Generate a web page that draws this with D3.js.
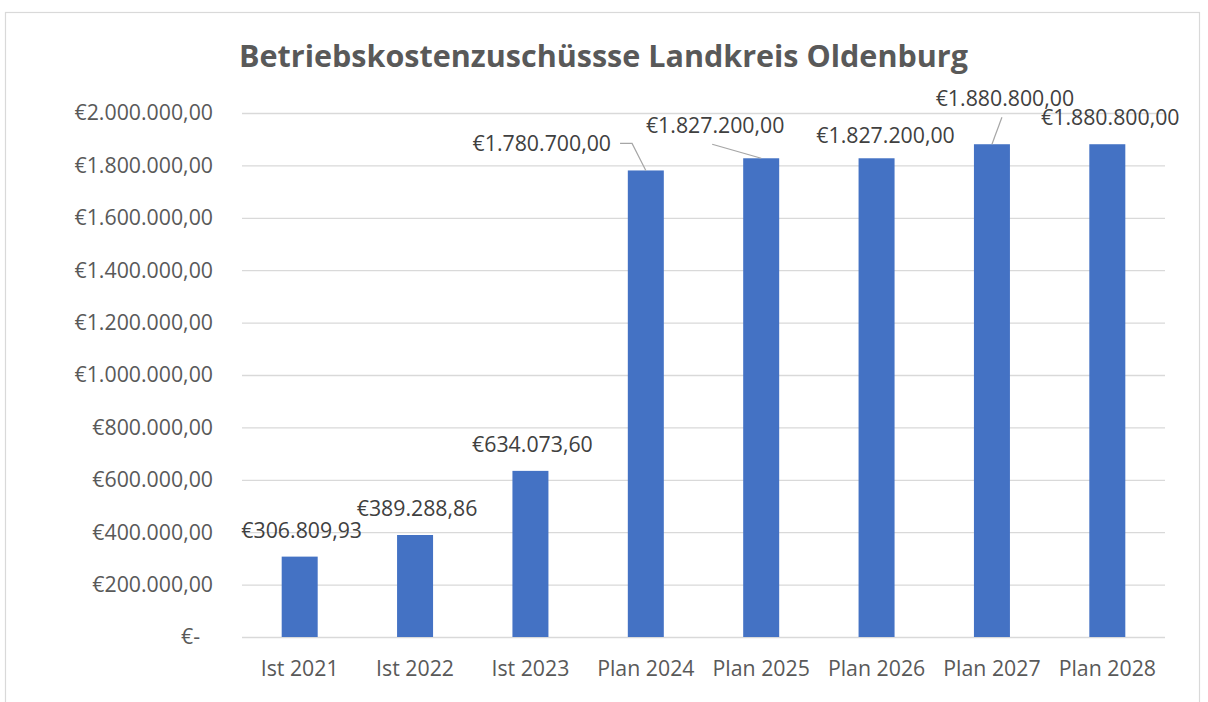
<!DOCTYPE html>
<html>
<head>
<meta charset="utf-8">
<script src="https://cdn.jsdelivr.net/npm/d3@7"></script>
<style>
  html, body { margin: 0; padding: 0; background: #fff; }
  svg { display: block; }
  text { font-family: "Open Sans", "Noto Sans", sans-serif; }
</style>
</head>
<body>
<svg id="chart" width="1208" height="702"></svg>
<script>
// ---- data ----
const title = "Betriebskostenzuschüssse Landkreis Oldenburg";
const categories = ["Ist 2021", "Ist 2022", "Ist 2023", "Plan 2024", "Plan 2025", "Plan 2026", "Plan 2027", "Plan 2028"];
const values = [306809.93, 389288.86, 634073.60, 1780700.00, 1827200.00, 1827200.00, 1880800.00, 1880800.00];
const yTickValues = [0, 200000, 400000, 600000, 800000, 1000000, 1200000, 1400000, 1600000, 1800000, 2000000];
const yTickLabels = ["€-", "€200.000,00", "€400.000,00", "€600.000,00", "€800.000,00", "€1.000.000,00",
                     "€1.200.000,00", "€1.400.000,00", "€1.600.000,00", "€1.800.000,00", "€2.000.000,00"];

// ---- layout (manual label placement as in the reference) ----
const labelShift = [[2,0],[2,0],[2,0],[-104,0],[-46,-6],[9,4],[13,-19],[3,0]];
const labelLeader = [null, null, null, "elbow", "straight", null, "straight", null];

const FS = 21.3;
const plot = { left: 242, right: 1165, top: 113, bottom: 637 };
const svg = d3.select("#chart");

// border
svg.append("rect")
  .attr("x", 5.5).attr("y", 12.5)
  .attr("width", 1194).attr("height", 720)
  .attr("fill", "#fff").attr("stroke", "#d9d9d9").attr("stroke-width", 1.2);

const x = d3.scaleBand().domain(categories)
  .range([plot.left, plot.right]).paddingInner(0.688).paddingOuter(0.344);
const y = d3.scaleLinear().domain([0, 2000000]).range([plot.bottom, plot.top]);

// title
const t = svg.append("text")
  .attr("x", 603.5).attr("y", 67)
  .attr("text-anchor", "middle")
  .attr("font-weight", "bold")
  .attr("fill", "#595959")
  .attr("font-size", 30)
  .text(title);
const tl = t.node().getComputedTextLength();
t.attr("font-size", 30 * 729 / tl);

// y axis with gridlines
const yAxis = d3.axisLeft(y)
  .tickValues(yTickValues)
  .tickFormat((d, i) => yTickLabels[i])
  .tickSizeInner(-(plot.right - plot.left))
  .tickSizeOuter(0)
  .tickPadding(29);
const gy = svg.append("g").attr("transform", `translate(${plot.left},0)`).call(yAxis);
gy.select(".domain").remove();
gy.selectAll(".tick line").attr("stroke", "#d9d9d9").attr("stroke-width", 1.3);
gy.selectAll(".tick text")
  .attr("font-size", FS)
  .attr("fill", "#595959")
  .attr("x", d => d === 0 ? -42 : -29);

// bars
svg.append("g").selectAll("rect")
  .data(values)
  .join("rect")
  .attr("x", (d, i) => x(categories[i]))
  .attr("y", d => y(d))
  .attr("width", x.bandwidth())
  .attr("height", d => y(0) - y(d))
  .attr("fill", "#4472C4");

// x axis
const xAxis = d3.axisBottom(x).tickSize(0).tickPadding(676 - 637 - 0.71 * FS);
const gx = svg.append("g").attr("transform", `translate(0,${plot.bottom})`).call(xAxis);
gx.select(".domain").remove();
gx.selectAll(".tick text").attr("font-size", FS).attr("fill", "#595959");

// data labels
const fmt = d3.formatLocale({ decimal: ",", thousands: ".", grouping: [3], currency: ["€", ""] }).format("$,.2f");
const gl = svg.append("g");
values.forEach((v, i) => {
  const cx = x(categories[i]) + x.bandwidth() / 2;
  const top = y(v);
  const lx = cx + labelShift[i][0];
  const ly = top - 19 + labelShift[i][1];
  const txt = gl.append("text")
    .attr("x", lx).attr("y", ly)
    .attr("text-anchor", "middle")
    .attr("font-size", FS)
    .attr("fill", "#404040")
    .text(fmt(v));
  const w = txt.node().getComputedTextLength();
  if (labelLeader[i] === "elbow") {
    const sx = lx + w / 2 + 9, sy = ly - 8;
    gl.append("path")
      .attr("d", `M${sx},${sy}H${sx + 12}L${cx},${top}`)
      .attr("fill", "none").attr("stroke", "#a6a6a6").attr("stroke-width", 1.2);
  } else if (labelLeader[i] === "straight") {
    gl.append("path")
      .attr("d", `M${lx - 3},${ly + 11}L${cx},${top}`)
      .attr("fill", "none").attr("stroke", "#a6a6a6").attr("stroke-width", 1.2);
  }
});
</script>
</body>
</html>
